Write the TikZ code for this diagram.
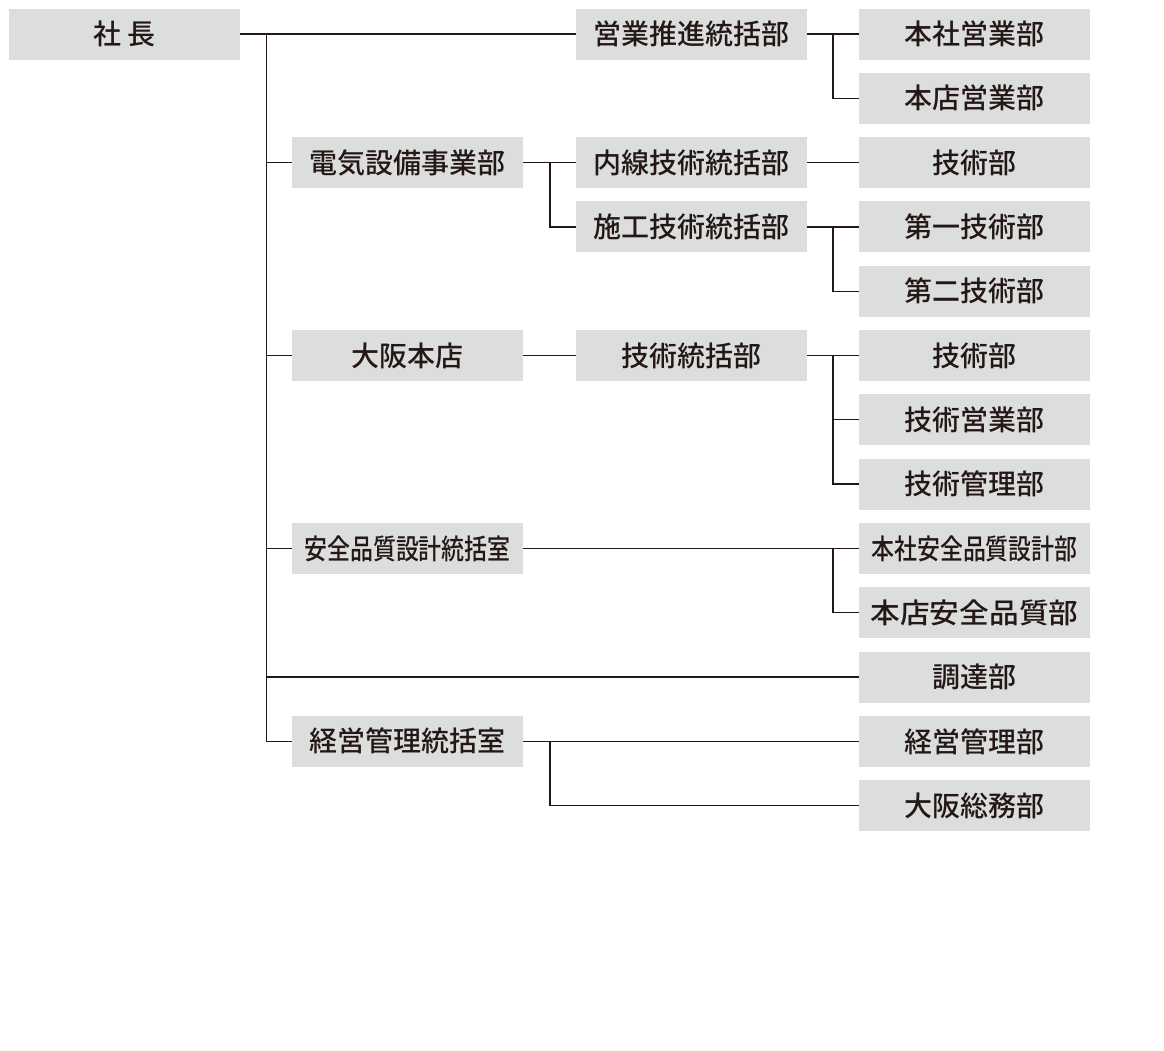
\documentclass[tikz,border=0pt]{standalone}
\usepackage{fontspec}
\setmainfont{Noto Sans CJK JP Medium}
\definecolor{boxgray}{HTML}{DCDDDD}
\definecolor{ink}{HTML}{231815}
\begin{document}
\begin{tikzpicture}[x=1pt,y=-1pt,
  box/.style={fill=boxgray, minimum width=231pt, minimum height=51pt, inner sep=0pt, text=ink, font=\fontsize{28}{28}\selectfont},
  link/.style={draw=ink, line width=1.3pt}]
\fill[white] (0,0) rectangle (1164,1050);
\useasboundingbox (0,0) rectangle (1164,1050);
% columns: 124.5, 407.5, 691.5, 974.5 ; rows 34 + 64.3 i
\node[box] (ceo) at (124.5,34) {社 長};
% column 2
\node[box] (denki) at (407.5,162.6) {電気設備事業部};
\node[box] (osaka) at (407.5,355.5) {大阪本店};
\node[box] (anzen) at (407.5,548.4) {\scalebox{0.82}[1]{安全品質設計統括室}};
\node[box] (keiei) at (407.5,741.3) {経営管理統括室};
% column 3
\node[box] (eigyo) at (691.5,34) {営業推進統括部};
\node[box] (naisen) at (691.5,162.6) {内線技術統括部};
\node[box] (seko) at (691.5,226.9) {施工技術統括部};
\node[box] (gijutsu) at (691.5,355.5) {技術統括部};
% column 4
\node[box] (d0) at (974.5,34) {本社営業部};
\node[box] (d1) at (974.5,98.3) {本店営業部};
\node[box] (d2) at (974.5,162.6) {技術部};
\node[box] (d3) at (974.5,226.9) {第一技術部};
\node[box] (d4) at (974.5,291.2) {第二技術部};
\node[box] (d5) at (974.5,355.5) {技術部};
\node[box] (d6) at (974.5,419.8) {技術営業部};
\node[box] (d7) at (974.5,484.1) {技術管理部};
\node[box] (d8) at (974.5,548.4) {\scalebox{0.82}[1]{本社安全品質設計部}};
\node[box] (d9) at (974.5,612.7) {\scalebox{1.06}[1]{本店安全品質部}};
\node[box] (d10) at (974.5,677) {調達部};
\node[box] (d11) at (974.5,741.3) {経営管理部};
\node[box] (d12) at (974.5,805.6) {大阪総務部};
% junction columns
\coordinate (trunk) at (266.5,0);
\coordinate (j2) at (550,0);
\coordinate (j4) at (833,0);
% CEO and trunk
\draw[link] (ceo.east) -- (eigyo.west);
\draw[link] (trunk |- ceo.east) -- (trunk |- keiei.west) -- (keiei.west);
\draw[link] (trunk |- denki.west) -- (denki.west);
\draw[link] (trunk |- osaka.west) -- (osaka.west);
\draw[link] (trunk |- anzen.west) -- (anzen.west);
\draw[link] (trunk |- d10.west) -- (d10.west);
% 営業推進統括部
\draw[link] (eigyo.east) -- (d0.west);
\draw[link] (j4 |- d0.west) |- (d1.west);
% 電気設備事業部
\draw[link] (denki.east) -- (naisen.west);
\draw[link] (j2 |- denki.east) |- (seko.west);
\draw[link] (naisen.east) -- (d2.west);
\draw[link] (seko.east) -- (d3.west);
\draw[link] (j4 |- d3.west) |- (d4.west);
% 大阪本店
\draw[link] (osaka.east) -- (gijutsu.west);
\draw[link] (gijutsu.east) -- (d5.west);
\draw[link] (j4 |- d5.west) |- (d7.west);
\draw[link] (j4 |- d6.west) -- (d6.west);
% 安全品質設計統括室
\draw[link] (anzen.east) -- (d8.west);
\draw[link] (j4 |- d8.west) |- (d9.west);
% 経営管理統括室
\draw[link] (keiei.east) -- (d11.west);
\draw[link] (j2 |- keiei.east) |- (d12.west);
\end{tikzpicture}
\end{document}
